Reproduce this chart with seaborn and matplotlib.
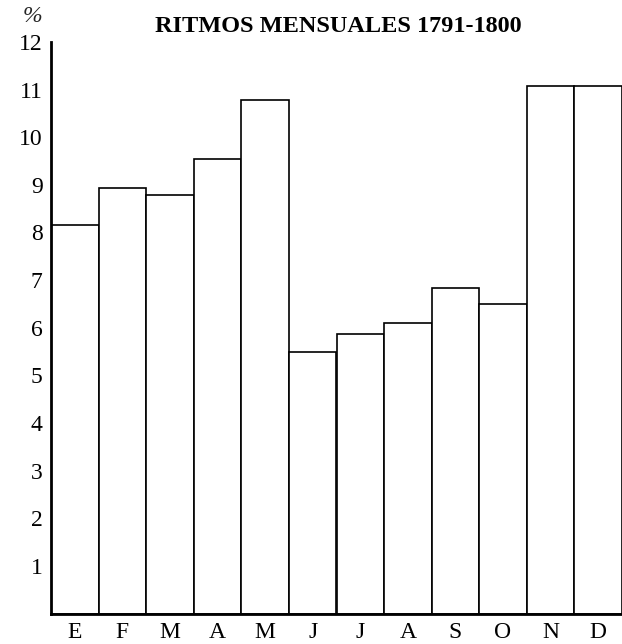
import matplotlib
matplotlib.use("Agg")
import matplotlib.pyplot as plt
import seaborn as sns
import pandas as pd

months = ["E", "F", "M", "A", "M", "J", "J", "A", "S", "O", "N", "D"]
values = [8.15, 8.93, 8.78, 9.54, 10.79, 5.49, 5.87, 6.09, 6.83, 6.50, 11.07, 11.07]
yticks = [1, 2, 3, 4, 5, 6, 7, 8, 9, 10, 11, 12]
title = "RITMOS MENSUALES 1791-1800"

sns.set_style("white")
plt.rcParams["font.family"] = ["Liberation Serif", "DejaVu Serif"]

df = pd.DataFrame({"pos": list(range(len(months))), "val": values})

fig = plt.figure(figsize=(6.22, 6.44), dpi=100)
ax = fig.add_axes([51 / 622, (644 - 613.5) / 644, 1 - 51 / 622, (613.5 - 42) / 644])

sns.barplot(data=df, x="pos", y="val", color="white", edgecolor="black",
            linewidth=1.2, width=1.0, saturation=1, ax=ax)
for p in ax.patches:
    p.set_facecolor("white")

ax.set_xlim(-0.5, 11.5)
ax.set_ylim(0, 12)
ax.set_yticks(yticks)
ax.set_yticklabels([str(t) for t in yticks], fontsize=17)
ax.set_xticks(range(len(months)))
ax.set_xticklabels(months, fontsize=17)
ax.set_xlabel("")
ax.set_ylabel("")

for s in ["top", "right"]:
    ax.spines[s].set_visible(False)
for s in ["left", "bottom"]:
    ax.spines[s].set_linewidth(2.0)
    ax.spines[s].set_color("black")

ax.tick_params(axis="y", direction="out", length=5, width=1.5, pad=1, colors="black")
ax.tick_params(axis="x", length=0, pad=6, colors="black")

fig.text(338 / 622, 1 - 27 / 644, title, ha="center", va="center",
         fontsize=17.5, fontweight="bold", color="black")
fig.text(32 / 622, 1 - 17 / 644, "%", ha="center", va="center",
         fontsize=17, style="italic")

fig.savefig("out.png", dpi=100, facecolor="white")
